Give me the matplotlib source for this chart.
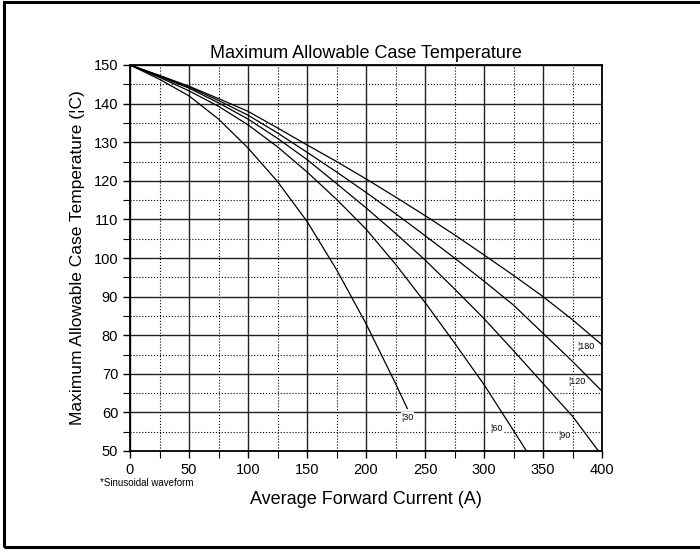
import matplotlib
matplotlib.use('Agg')
import matplotlib.pyplot as plt
from matplotlib.patches import Rectangle
from matplotlib.ticker import MultipleLocator

plt.rcParams['font.family'] = ['Liberation Sans', 'DejaVu Sans']

# conduction angle curves (deg) -> (current A, max case temp C)
x_180 = [0, 25, 50, 75, 100, 125, 150, 175, 200, 225, 250, 275, 300, 325, 350, 375, 400]
y_180 = [150, 147.3, 144.5, 141.3, 138, 133.7, 129.3, 125, 120.5, 115.8, 111, 106, 100.8, 95.5, 90, 84, 77.5]
x_120 = [0, 25, 50, 75, 100, 125, 150, 175, 200, 225, 250, 275, 300, 325, 350, 375, 400]
y_120 = [150, 147.2, 144.3, 140.8, 137, 132.4, 127.4, 122.3, 117, 111.5, 105.8, 100, 94, 87.8, 80.5, 73.2, 65.5]
x_90 = [0, 25, 50, 75, 100, 125, 150, 175, 200, 225, 250, 275, 300, 325, 350, 375, 397]
y_90 = [150, 147, 144, 140.2, 136, 131, 125.5, 119.3, 113, 106.4, 99.5, 92, 84.3, 76, 67.5, 59, 50]
x_60 = [0, 25, 50, 75, 100, 125, 150, 175, 200, 225, 250, 275, 300, 325, 336]
y_60 = [150, 146.8, 143.3, 139.3, 134.5, 128.8, 122.3, 115.2, 107.5, 98.4, 88.5, 78, 67.2, 55.3, 50]
x_30 = [0, 25, 50, 75, 100, 125, 150, 175, 200, 225, 235]
y_30 = [150, 146.3, 142, 136, 128.5, 119.8, 109.5, 97, 83, 67.5, 61]

curve_labels = ['\u00a630', '\u00a660', '\u00a690', '\u00a6120', '\u00a6180']
label_x = [230, 305, 363, 371, 379]
label_y = [58.8, 55.7, 54, 68, 77]

fig = plt.figure(figsize=(7, 5.5), dpi=100)
ax = fig.add_axes([130 / 700, 1 - 451 / 550, 472 / 700, 386 / 550])

for xs, ys in ((x_180, y_180), (x_120, y_120), (x_90, y_90),
               (x_60, y_60), (x_30, y_30)):
    ax.plot(xs, ys, color='black', lw=0.9, zorder=3)

for txt, lx, ly in zip(curve_labels, label_x, label_y):
    ax.text(lx, ly, txt, fontsize=6.5, ha='left', va='center', zorder=4,
            bbox=dict(facecolor='white', edgecolor='none', pad=0.3))

ax.set_xlim(0, 400)
ax.set_ylim(50, 150)
ax.xaxis.set_major_locator(MultipleLocator(50))
ax.xaxis.set_minor_locator(MultipleLocator(25))
ax.yaxis.set_major_locator(MultipleLocator(10))
ax.yaxis.set_minor_locator(MultipleLocator(5))
ax.grid(which='major', color='#222222', lw=1.0, ls='-')
ax.grid(which='minor', color='black', lw=0.8, ls=':')
ax.tick_params(which='major', direction='out', length=5, width=1,
               labelsize=10.5, top=False, right=False)
ax.tick_params(which='minor', direction='out', length=5, width=0.8,
               top=False, right=False)
for s in ax.spines.values():
    s.set_linewidth(1.3)

ax.set_title('Maximum Allowable Case Temperature', fontsize=13, pad=5)
ax.set_xlabel('Average Forward Current (A)', fontsize=13, labelpad=10)
ax.set_ylabel('Maximum Allowable Case Temperature (\u00a6C)', fontsize=12.5,
              labelpad=6)
fig.text(100 / 700, 1 - 483 / 550, '*Sinusoidal waveform', fontsize=7,
         ha='left', va='center')

fig.patches.append(Rectangle((4 / 700, 3 / 550), 1.0, 1 - 5 / 550,
                             transform=fig.transFigure, fill=False,
                             edgecolor='black', lw=2.2))

fig.savefig('out.png', dpi=100)
